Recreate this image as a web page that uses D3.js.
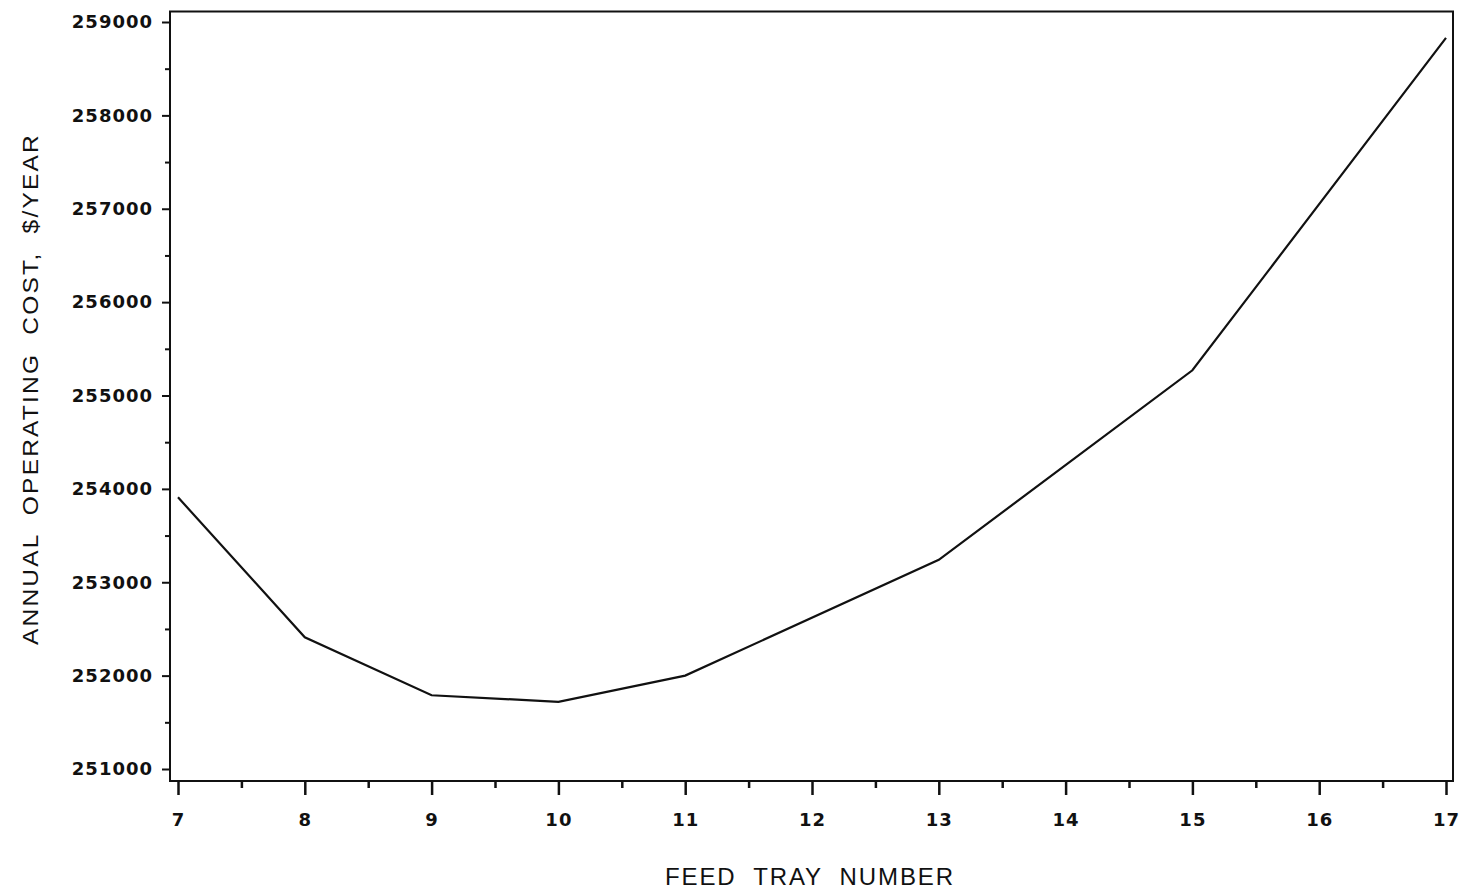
<!DOCTYPE html>
<html>
<head>
<meta charset="utf-8">
<script src="https://cdn.jsdelivr.net/npm/d3@7"></script>
<style>
  body { margin: 0; background: #fff; }
  .tick text { font-family: "DejaVu Sans", sans-serif; font-weight: bold; font-size: 18px; fill: #111; }
  .lbl { font-family: "Liberation Sans", Arial, sans-serif; fill: #111; white-space: pre; }
</style>
</head>
<body>
<script>
var width = 1468;
var height = 894;

// feed tray number vs annual operating cost
var trays = [7, 8, 9, 10, 11, 13, 15, 17];
var costs = [253910, 252410, 251790, 251720, 252000, 253240, 255270, 258830];
var xTicks = [7, 8, 9, 10, 11, 12, 13, 14, 15, 16, 17];
var yTicks = [251000, 252000, 253000, 254000, 255000, 256000, 257000, 258000, 259000];

var svg = d3.select('body').append('svg')
  .attr('width', width).attr('height', height)
  .style('background-color', '#fff');

var x = d3.scaleLinear().domain([7, 17]).range([178, 1446]);
var y = d3.scaleLinear().domain([251000, 259000]).range([769, 22]);

var frameL = 170, frameR = 1453, frameT = 11.5, frameB = 781;

// frame
svg.append('rect')
  .attr('x', frameL).attr('y', frameT)
  .attr('width', frameR - frameL).attr('height', frameB - frameT)
  .attr('fill', 'none').attr('stroke', '#111').attr('stroke-width', 2);

// minor ticks
var xMinor = d3.range(7.5, 17, 1);
svg.append('g').attr('transform', 'translate(0,' + frameB + ')')
  .call(d3.axisBottom(x).tickValues(xMinor).tickSize(7).tickFormat(''))
  .call(function(g) { g.select('.domain').remove(); })
  .selectAll('line').attr('stroke', '#111').attr('stroke-width', 2.5);

var yMinor = d3.range(251500, 259000, 1000);
svg.append('g').attr('transform', 'translate(' + frameL + ',0)')
  .call(d3.axisLeft(y).tickValues(yMinor).tickSize(5).tickFormat(''))
  .call(function(g) { g.select('.domain').remove(); })
  .selectAll('line').attr('stroke', '#111').attr('stroke-width', 2);

// major ticks and labels
var xAxis = svg.append('g').attr('transform', 'translate(0,' + frameB + ')')
  .call(d3.axisBottom(x).tickValues(xTicks).tickSize(14).tickPadding(18).tickFormat(d3.format('d')));
xAxis.select('.domain').remove();
xAxis.selectAll('line').attr('stroke', '#111').attr('stroke-width', 2.5);
xAxis.selectAll('text').style('letter-spacing', '1px');

var yAxis = svg.append('g').attr('transform', 'translate(' + frameL + ',0)')
  .call(d3.axisLeft(y).tickValues(yTicks).tickSize(8).tickPadding(9).tickFormat(d3.format('d')));
yAxis.select('.domain').remove();
yAxis.selectAll('line').attr('stroke', '#111').attr('stroke-width', 2);
yAxis.selectAll('text').style('letter-spacing', '1px');

// cost curve
var line = d3.line()
  .x(function(d, i) { return x(trays[i]); })
  .y(function(d) { return y(d); });

svg.append('path')
  .datum(costs)
  .attr('d', line)
  .attr('fill', 'none')
  .attr('stroke', '#111')
  .attr('stroke-width', 2.2);

// axis titles
svg.append('text').attr('class', 'lbl')
  .attr('x', 809).attr('y', 885)
  .attr('text-anchor', 'middle')
  .attr('font-size', 24)
  .attr('textLength', 288).attr('lengthAdjust', 'spacing')
  .text('FEED  TRAY  NUMBER');

svg.append('text').attr('class', 'lbl')
  .attr('transform', 'translate(38,389) rotate(-90)')
  .attr('text-anchor', 'middle')
  .attr('font-size', 22)
  .style('letter-spacing', '2px')
  .attr('textLength', 512).attr('lengthAdjust', 'spacingAndGlyphs')
  .text('ANNUAL  OPERATING  COST,  $/YEAR');
</script>
</body>
</html>
